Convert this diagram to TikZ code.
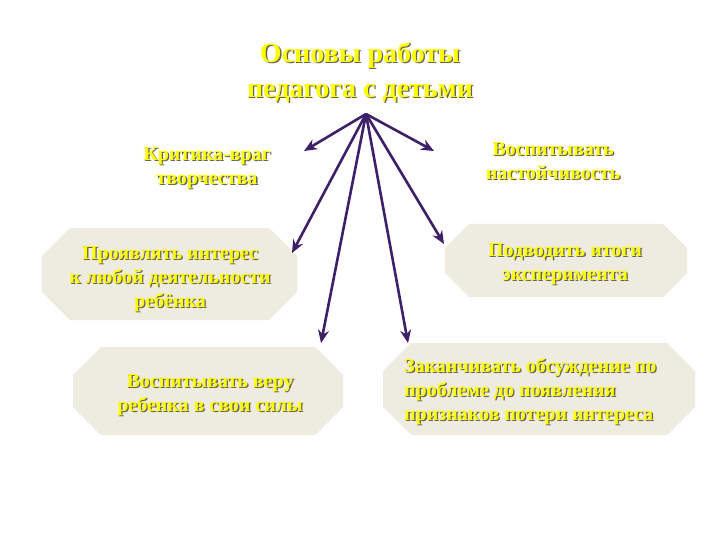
\documentclass[tikz,border=0pt]{standalone}
\usepackage{fontspec}
\setmainfont{Liberation Serif}
\usetikzlibrary{arrows.meta}
\definecolor{octfill}{RGB}{238,236,225}
\definecolor{arrowc}{RGB}{62,32,104}
\definecolor{txtyel}{RGB}{255,255,0}
\definecolor{shadowc}{RGB}{100,100,80}
\newcommand\stext[4]{%
  \node[#3, text=shadowc, shift={(1.3pt,-1.3pt)}] at (#2) {#4};
  \node[#3] (#1) at (#2) {#4};}
% \octbox{name}{x1}{y1}{x2}{y2}{chamfer}
\newcommand\octbox[6]{%
  \fill[octfill] (#2+#6,#3) -- (#4-#6,#3) -- (#4,#3+#6) -- (#4,#5-#6) -- (#4-#6,#5)
     -- (#2+#6,#5) -- (#2,#5-#6) -- (#2,#3+#6) -- cycle;
  \coordinate (#1) at ({(#2+#4)/2},{(#3+#5)/2});}
\begin{document}
\begin{tikzpicture}[x=1pt,y=-1pt,
  ttl/.style={font=\bfseries\fontsize{28}{35}\selectfont, align=center, text=txtyel, inner sep=0pt},
  body/.style={font=\bfseries\fontsize{20}{24}\selectfont, align=center, text=txtyel, inner sep=0pt},
  bodyl/.style={font=\bfseries\fontsize{20}{24}\selectfont, align=left, text=txtyel, inner sep=0pt, anchor=north west},
  arr/.style={draw=arrowc, line width=2.6pt, -{Stealth[length=13pt,width=11pt]}}]
\useasboundingbox[fill=white] (0,0) rectangle (720,540);
% octagons
\octbox{o1}{42}{228}{297}{320}{28}
\octbox{o2}{445}{224}{687}{297}{24}
\octbox{o3}{73}{347}{343}{435}{28}
\octbox{o4}{383}{343}{695}{435}{28}
% texts
\stext{title}{360,72}{ttl}{Основы работы\\педагога с детьми}
\stext{t1}{207,168}{body}{Критика-враг\\творчества}
\stext{t2}{553,161}{body}{Воспитывать\\настойчивость}
\stext{t3}{170,279}{body}{Проявлять интерес\\к любой деятельности\\ребёнка}
\stext{t4}{565,264}{body}{Подводить итоги\\эксперимента}
\stext{t5}{210,395}{body}{Воспитывать веру\\ребенка в свои силы}
\stext{t6}{404,358}{bodyl}{Заканчивать обсуждение по\\проблеме до появления\\признаков потери интереса}
% arrows
\coordinate (hub) at (366,114);
\coordinate (e1) at (304,151);
\coordinate (e2) at (434,151);
\coordinate (e3) at (292,253);
\coordinate (e4) at (321,343);
\coordinate (e5) at (408,343);
\coordinate (e6) at (444,244);
\foreach \e in {e1,e2,e3,e4,e5,e6} \draw[arr] (hub) -- (\e);
\end{tikzpicture}
\end{document}
